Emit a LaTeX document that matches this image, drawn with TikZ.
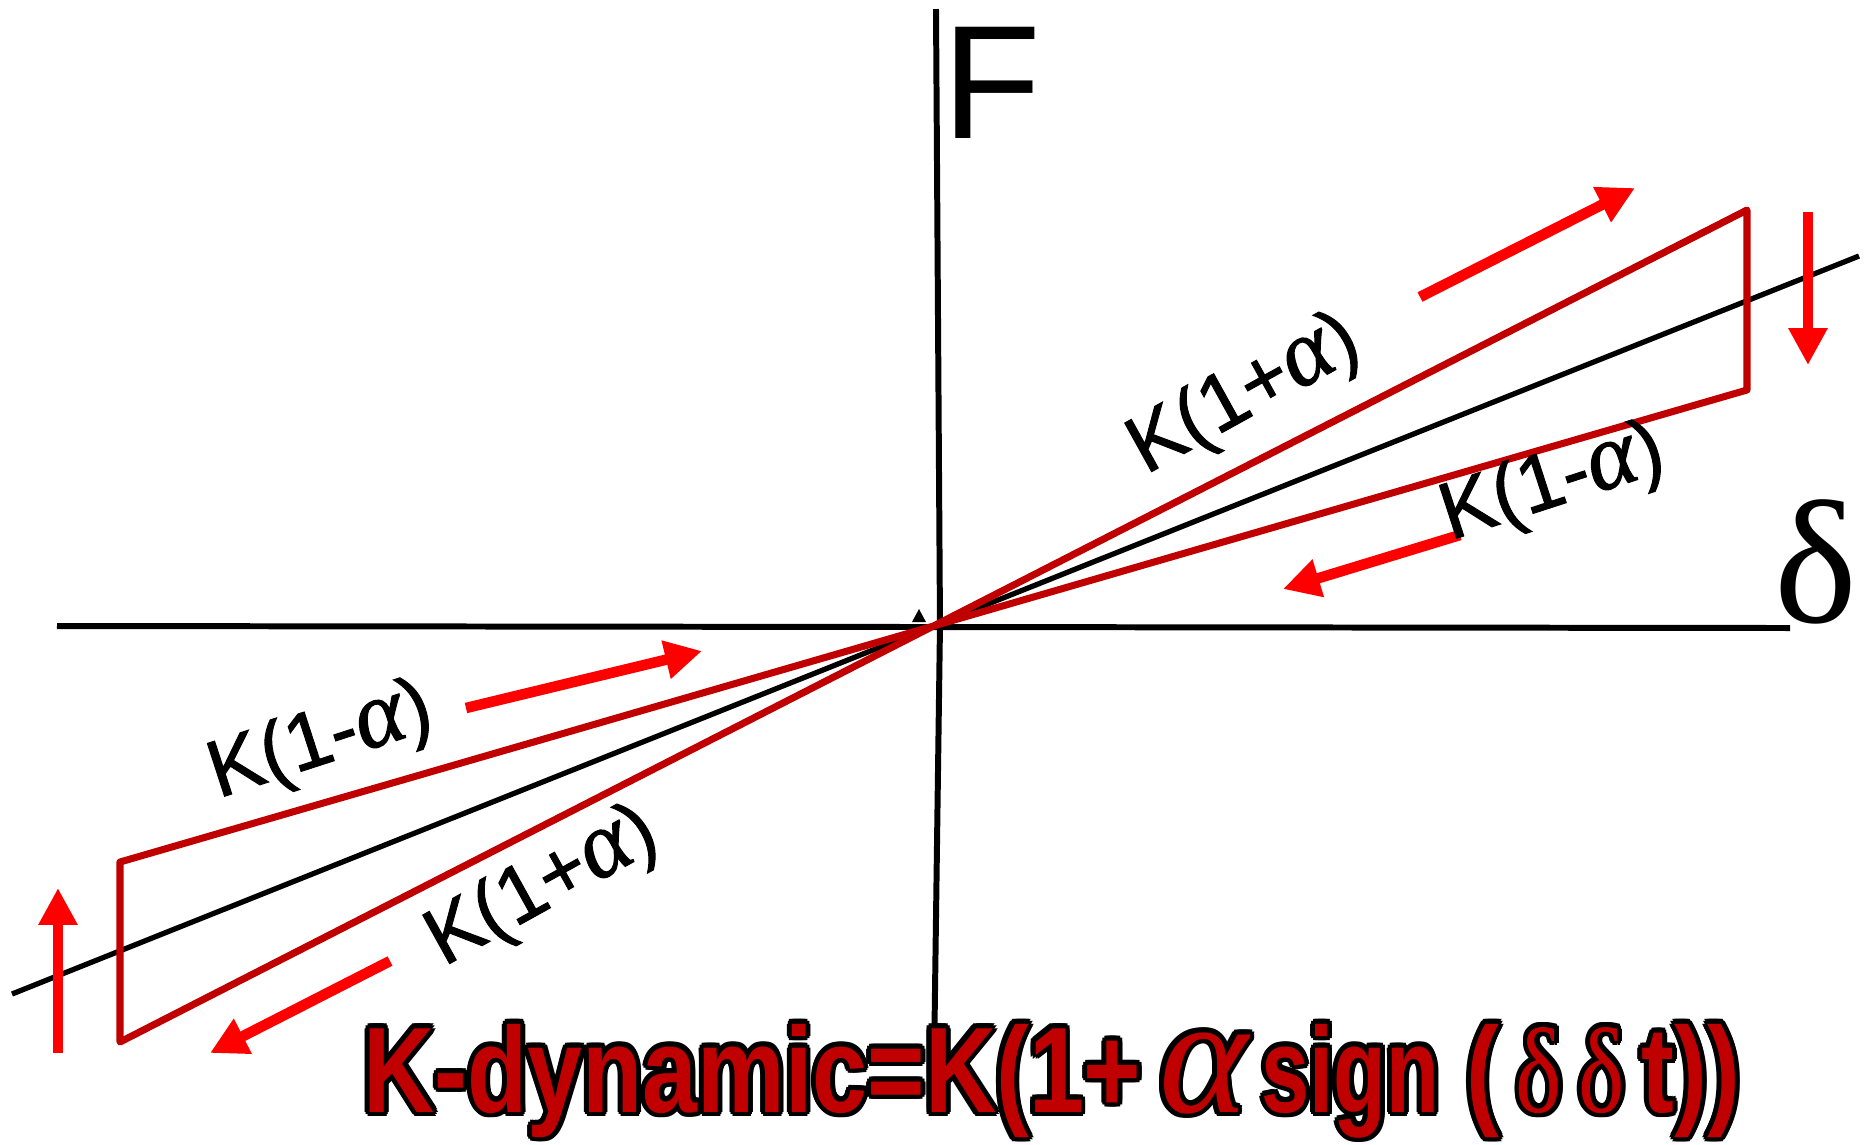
\documentclass[tikz,border=0pt]{standalone}
\usepackage{fontspec}
\setmainfont{Liberation Sans}
\newfontfamily\grk{Liberation Serif}
\newfontfamily\labsans[FakeBold=1.2]{Liberation Sans}
\newfontfamily\labgrk[FakeBold=1.2]{Liberation Serif}
\usepackage[copies]{contour}
\contourlength{1.4pt}
\contournumber{12}
\usetikzlibrary{arrows.meta}
\definecolor{boxred}{HTML}{C00000}
\definecolor{arrred}{HTML}{FF0000}
\newcommand\fsans[2]{\scalebox{#1}[1]{\fontsize{34.6pt}{40pt}\selectfont\bfseries #2}}
\tikzset{
  axis/.style={black, line width=1.7pt},
  diag/.style={black, line width=1.5pt},
  loopline/.style={boxred, line width=2pt, line join=round},
  motion/.style={arrred, line width=3pt, -{Triangle[length=10.5pt,width=10.5pt]}},
  slabel/.style={font=\labsans\fontsize{23pt}{27pt}\selectfont, inner sep=0pt},
}
\newcommand\lab[1]{K(1#1{\labgrk\itshape\fontsize{27pt}{27pt}\selectfont α})}
\begin{document}
\begin{tikzpicture}[x=0.01cm,y=-0.01cm]
\useasboundingbox (0,0) rectangle (1865,1144);
% axes
\coordinate (O) at (940,625);
\coordinate (vtop) at (936,9);
\coordinate (vbot) at (934,1065);
\coordinate (hl) at (57,626);
\coordinate (hr) at (1790,628);
\draw[axis] (vtop) -- (O) -- (vbot);
\draw[axis] (hl) -- (hr);
\fill (912,622) -- (919,609) -- (926,622) -- cycle;
% static stiffness line
\coordinate (dl) at (12,994);
\coordinate (dr) at (1859,256);
\draw[diag] (dl) -- (dr);
% hysteresis loop
\coordinate (A) at (120,862);
\coordinate (B) at (1747,390);
\coordinate (C) at (1747,210);
\coordinate (D) at (120,1042);
\draw[loopline] (A) -- (B) -- (C) -- (D) -- cycle;
% direction arrows
\coordinate (a1s) at (1420,297); \coordinate (a1e) at (1635,188);
\coordinate (a2s) at (1808,212); \coordinate (a2e) at (1808,365);
\coordinate (a3s) at (1460,535); \coordinate (a3e) at (1283,589);
\coordinate (a4s) at (466,708);  \coordinate (a4e) at (702,651);
\coordinate (a5s) at (390,961);  \coordinate (a5e) at (210,1053);
\coordinate (a6s) at (58,1053);  \coordinate (a6e) at (58,888);
\draw[motion] (a1s) -- (a1e);
\draw[motion] (a2s) -- (a2e);
\draw[motion] (a3s) -- (a3e);
\draw[motion] (a4s) -- (a4e);
\draw[motion] (a5s) -- (a5e);
\draw[motion] (a6s) -- (a6e);
% labels
\node[slabel, rotate=29] (l1) at (1245,396) {\lab{+}};
\node[slabel, rotate=18] (l2) at (1553,485) {\lab{-}};
\node[slabel, rotate=18] (l3) at (321,743) {\lab{-}};
\node[slabel, rotate=29] (l4) at (543,888) {\lab{+}};
\node[font=\fontsize{46pt}{50pt}\selectfont, inner sep=0pt] (F) at (992,83) {F};
\node[font=\grk\fontsize{50pt}{55pt}\selectfont, inner sep=0pt] (delta) at (1816,562) {δ};
% formula
\node[anchor=base west, inner sep=0pt, text=boxred] (formula) at (363,1112)
  {\contour{black}{\fsans{0.81}{K-dynamic=K(1+}}\hspace{5pt}\contour{black}{\grk\itshape\fontsize{48pt}{48pt}\selectfont α}\hspace{4pt}\contour{black}{\fsans{0.71}{sign}}\contour{black}{\fsans{0.81}{ (\,{\grk\mdseries δ\,δ}\,t))}}};
\end{tikzpicture}
\end{document}
